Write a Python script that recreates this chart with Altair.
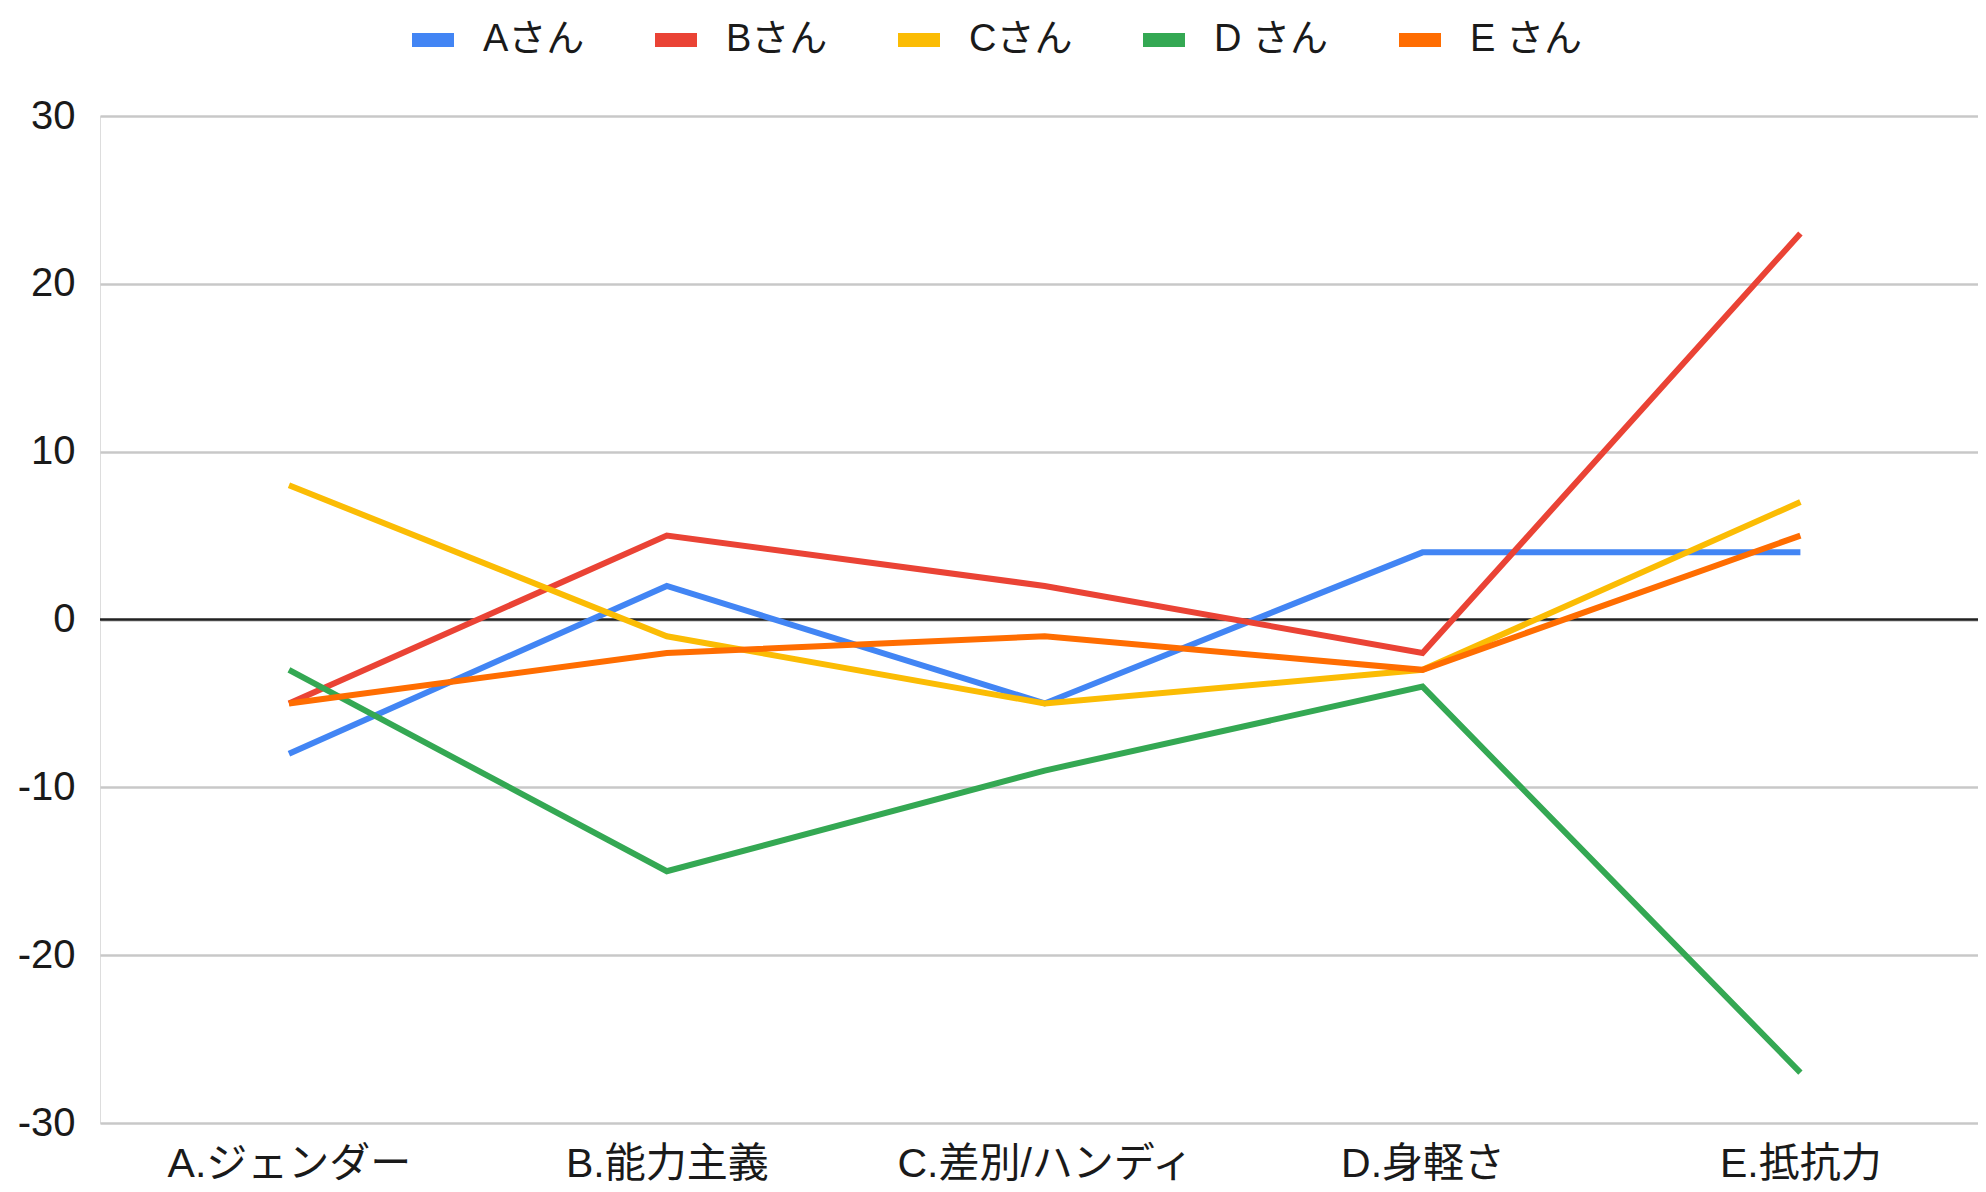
import altair as alt
import pandas as pd

categories = ["A.ジェンダー", "B.能力主義", "C.差別/ハンディ", "D.身軽さ", "E.抵抗力"]
series_names = ["Aさん", "Bさん", "Cさん", "D さん", "E さん"]
a_vals = [-8, 2, -5, 4, 4]
b_vals = [-5, 5, 2, -2, 23]
c_vals = [8, -1, -5, -3, 7]
d_vals = [-3, -15, -9, -4, -27]
e_vals = [-5, -2, -1, -3, 5]
colors = ["#4285F4", "#EA4335", "#FBBC04", "#34A853", "#FF6D01"]
y_ticks = [-30, -20, -10, 0, 10, 20, 30]

rows = []
for name, vals in zip(series_names, [a_vals, b_vals, c_vals, d_vals, e_vals]):
    for i, (cat, v) in enumerate(zip(categories, vals)):
        rows.append({"idx": i, "item": cat, "person": name, "score": v})
df = pd.DataFrame(rows)

latin = "Liberation Sans, Arial, Noto Sans CJK JP, sans-serif"
cat_js = "[" + ",".join("'" + c + "'" for c in categories) + "]"

x_enc = alt.X("idx:Q", title=None,
              scale=alt.Scale(domain=[-0.5, 4.47], nice=False, zero=False),
              axis=alt.Axis(values=list(range(len(categories))),
                            labelExpr=cat_js + "[datum.value]",
                            labelAngle=0, labelFont=latin, labelFontSize=41,
                            labelColor="#1a1a1a", labelPadding=21, ticks=False,
                            domain=False, grid=False, labelLimit=0,
                            labelOverlap=False, labelFlush=False))
y_scale = alt.Scale(domain=[-30, 30], nice=False)

lines = alt.Chart(df).mark_line(strokeWidth=6, strokeCap="butt", strokeJoin="miter").encode(
    x=x_enc,
    y=alt.Y("score:Q", title=None, scale=y_scale,
            axis=alt.Axis(values=y_ticks, labelExpr="toString(datum.value)",
                          labelFont=latin, labelFontSize=40,
                          labelColor="#1a1a1a", labelPadding=25, ticks=False,
                          domain=False, grid=True, gridColor="#c8c8c8",
                          gridWidth=2.5)),
    color=alt.Color("person:N", sort=series_names,
                    scale=alt.Scale(domain=series_names, range=colors),
                    legend=alt.Legend(title=None, orient="none", direction="horizontal",
                                      columns=5, legendX=305, legendY=-104,
                                      symbolType="stroke", symbolStrokeWidth=14,
                                      symbolSize=1764, labelFont=latin,
                                      labelFontSize=38, labelColor="#1a1a1a",
                                      labelOffset=22, columnPadding=42, padding=0)),
    order=alt.Order("person_order:Q"),
).transform_calculate(
    person_order="indexof(" + str(series_names) + ", datum.person)"
)

zero = alt.Chart(pd.DataFrame({"z": [0]})).mark_rule(color="#222222", strokeWidth=2.5).encode(
    y=alt.Y("z:Q", scale=y_scale)
)

chart = alt.layer(zero, lines).properties(
    width=1878, height=1007,
    padding={"left": 92, "top": 108, "right": 0, "bottom": 61},
    autosize=alt.AutoSizeParams(type="none"),
).configure_view(stroke=None).configure(background="white")

chart.save("out.html", embed_options={"renderer": "svg", "actions": False})
